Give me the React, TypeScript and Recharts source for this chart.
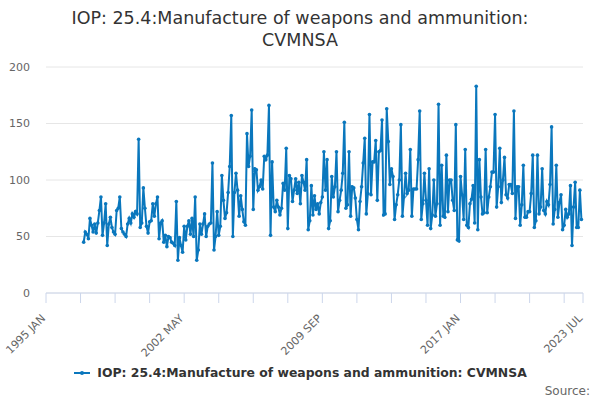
import React from "react";
import { LineChart, Line, XAxis, YAxis, CartesianGrid } from "recharts";

// months counted from 1995 JAN; series starts 1997 JAN (month 24)
const START_MONTH = 24;
const MONTH_NAMES = ["JAN", "FEB", "MAR", "APR", "MAY", "JUN", "JUL", "AUG", "SEP", "OCT", "NOV", "DEC"];

const values1997to2000 = [
  45, 54, 52, 48, 66, 60, 54, 61, 53, 62, 73, 85, 51, 62, 79, 42, 61, 67, 58, 54, 52, 73, 75, 85,
  57, 54, 52, 50, 61, 66, 62, 70, 67, 72, 70,
];
const values2000to2003 = [
  136, 58, 62, 93, 75, 59, 53, 63, 64, 79, 68, 79, 85, 48, 62, 64, 45, 51, 41, 50, 49, 45, 44, 42,
  81, 29, 49, 42, 36, 59, 47, 59, 64, 52, 66, 50, 85, 29, 38, 61, 52, 61, 70, 50, 59,
];
const values2003to2007 = [
  61, 62, 115, 38, 50, 72, 51, 59, 104, 82, 66, 71, 89, 112, 157, 50, 89, 106, 91, 68, 86, 74,
  63, 60, 141, 112, 121, 162, 74, 110, 109, 91, 94, 100, 92, 121, 118, 122, 166, 51, 116, 76,
];
const values2007to2010 = [
  72, 82, 76, 69, 75, 97, 91, 128, 57, 104, 101, 81, 91, 101, 88, 98, 79, 104, 98, 91, 118, 56,
  64, 95, 69, 86, 74, 79, 70, 80, 85, 125, 91, 118, 57, 64, 103, 85, 94, 125, 72,
];
const values2010to2014 = [
  82, 91, 106, 151, 75, 78, 125, 68, 94, 93, 84, 65, 56, 81, 94, 115, 137, 70, 88, 158, 87, 116,
  116, 135, 82, 125, 126, 153, 69, 70, 163, 134, 96, 110, 103, 65, 78, 87, 100, 149, 68,
];
const values2014to2017 = [
  85, 106, 88, 91, 127, 68, 92, 92, 92, 118, 161, 65, 79, 106, 82, 60, 110, 57, 69, 100, 68, 79,
  167, 60, 113, 68, 67, 122, 72, 100, 100, 82, 73, 149, 47, 46, 103, 87, 65, 127, 60,
];
const values2017to2021 = [
  58, 79, 83, 95, 62, 183, 56, 118, 85, 70, 71, 127, 71, 85, 94, 107, 107, 158, 76, 94, 128, 80,
  100, 120, 87, 84, 96, 96, 88, 161, 66, 94, 94, 60, 78, 113, 67, 67, 72, 72, 88, 122, 58,
];
const values2021to2023 = [
  64, 122, 70, 76, 110, 73, 70, 81, 78, 96, 147, 61, 74, 113, 67, 80, 87, 56, 60, 74, 67, 70, 95,
  42, 76, 98, 58, 58, 91, 65,
];

const allValues = [
  ...values1997to2000,
  ...values2000to2003,
  ...values2003to2007,
  ...values2007to2010,
  ...values2010to2014,
  ...values2014to2017,
  ...values2017to2021,
  ...values2021to2023,
];

const xTicks = [0, 22, 44, 66, 88, 110, 132, 154, 176, 198, 220, 242, 264, 286, 308, 330, 342];
const xLabelTicks = [0, 88, 176, 264, 342];
const yTicks = [0, 50, 100, 150, 200];

const TITLE_1 = "IOP: 25.4:Manufacture of weapons and ammunition:";
const TITLE_2 = "CVMNSA";
const SERIES_NAME = "IOP: 25.4:Manufacture of weapons and ammunition: CVMNSA";

const data = allValues.map((v, i) => ({ month: START_MONTH + i, value: v }));

const FONT = "'DejaVu Sans', Verdana, sans-serif";
const LINE_COLOR = "#0a77bd";

function monthLabel(m: number) {
  const year = 1995 + Math.floor(m / 12);
  return `${year} ${MONTH_NAMES[m % 12]}`;
}

function XTick({ x, y, payload }: any) {
  if (!xLabelTicks.includes(payload.value)) return null;
  return (
    <text
      x={x}
      y={y + 14}
      transform={`rotate(-45 ${x} ${y + 14})`}
      textAnchor="end"
      fontSize={11}
      fill="#666"
      fontFamily={FONT}
    >
      {monthLabel(payload.value)}
    </text>
  );
}

export default function App() {
  return (
    <div
      style={{
        position: "absolute",
        top: 0,
        left: 0,
        width: 600,
        height: 400,
        background: "#fff",
        fontFamily: FONT,
      }}
    >
      <div
        style={{
          position: "absolute",
          top: 7,
          left: 0,
          width: 600,
          textAlign: "center",
          fontSize: 17.5,
          lineHeight: "22px",
          color: "#333",
        }}
      >
        <div>{TITLE_1}</div>
        <div>{TITLE_2}</div>
      </div>
      <LineChart
        width={600}
        height={400}
        data={data}
        margin={{ top: 67, right: 17, bottom: 47, left: 10 }}
      >
        <CartesianGrid vertical={false} stroke="#e6e6e6" />
        <XAxis
          dataKey="month"
          type="number"
          domain={[0, 342]}
          ticks={xTicks}
          interval={0}
          tick={<XTick />}
          tickSize={10}
          tickLine={{ stroke: "#ccd6eb" }}
          axisLine={{ stroke: "#ccd6eb" }}
          height={60}
        />
        <YAxis
          domain={[0, 200]}
          ticks={yTicks}
          width={36}
          axisLine={false}
          tickLine={false}
          tickSize={0}
          tickMargin={16}
          tick={{ fontSize: 11, fill: "#666", fontFamily: FONT }}
        />
        <Line
          type="linear"
          dataKey="value"
          stroke={LINE_COLOR}
          strokeWidth={2}
          dot={{ r: 1.8, fill: LINE_COLOR, stroke: LINE_COLOR, strokeWidth: 0 }}
          isAnimationActive={false}
        />
      </LineChart>
      <div
        style={{
          position: "absolute",
          top: 365,
          left: 0,
          width: 600,
          display: "flex",
          justifyContent: "center",
          alignItems: "center",
          fontSize: 12.4,
          fontWeight: "bold",
          color: "#333",
        }}
      >
        <svg width={20} height={10} style={{ marginRight: 4 }}>
          <line x1={1} y1={5} x2={17} y2={5} stroke={LINE_COLOR} strokeWidth={2} />
          <circle cx={9} cy={5} r={2} fill={LINE_COLOR} />
        </svg>
        <span>{SERIES_NAME}</span>
      </div>
      <div
        style={{
          position: "absolute",
          top: 384,
          right: 10,
          fontSize: 12,
          color: "#666",
        }}
      >
        Source:
      </div>
    </div>
  );
}
